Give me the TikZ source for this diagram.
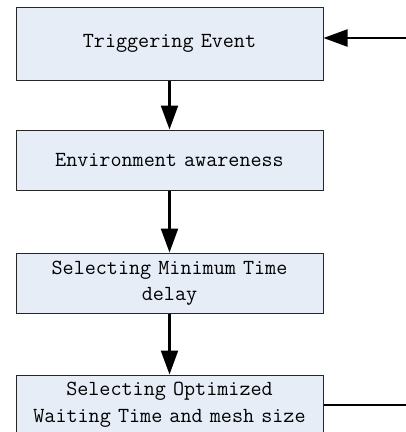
\documentclass[tikz,border=0pt]{standalone}
\usepackage{fontspec}
\usetikzlibrary{arrows.meta,positioning}
\definecolor{boxfill}{HTML}{E7EDF7}
\begin{document}
\begin{tikzpicture}[x=1pt,y=-1pt]
        % Define styles for the boxes and arrows
        \tikzstyle{stage}=[rectangle,draw=black!85,line width=1pt,fill=boxfill,minimum width=307pt,inner sep=0pt,text width=300pt,align=center,font=\ttfamily\fontsize{21.5}{26.5}\selectfont]
        \tikzstyle{flow}=[line width=2.2pt,-{Triangle[length=24pt,width=17pt]}]
        \useasboundingbox (0,0) rectangle (406,432);

        % The four stages, top to bottom
        \node[stage,minimum height=73pt] (trig) at (169.5,43.5) {Triggering Event\vphantom{y}};
        \node[stage,minimum height=60pt] (env) at (169.5,160) {Environment awareness};
        \node[stage,minimum height=60pt] (minT) at (169.5,283) {Selecting Minimum Time\\delay};
        \node[stage,minimum height=60pt] (opt) at (169.5,405) {Selecting Optimized\\Waiting Time and mesh size};

        % Loose ends at the right border
        \coordinate (back) at (406,38);
        \coordinate (out) at (406,405);

        % Connect the stages
        \draw[flow] (trig) -- (env);
        \draw[flow] (env) -- (minT);
        \draw[flow] (minT) -- (opt);
        \draw[flow] (back) -- (back -| trig.east);
        \draw[line width=2.2pt] (opt.east) -- (out);
\end{tikzpicture}
\end{document}
